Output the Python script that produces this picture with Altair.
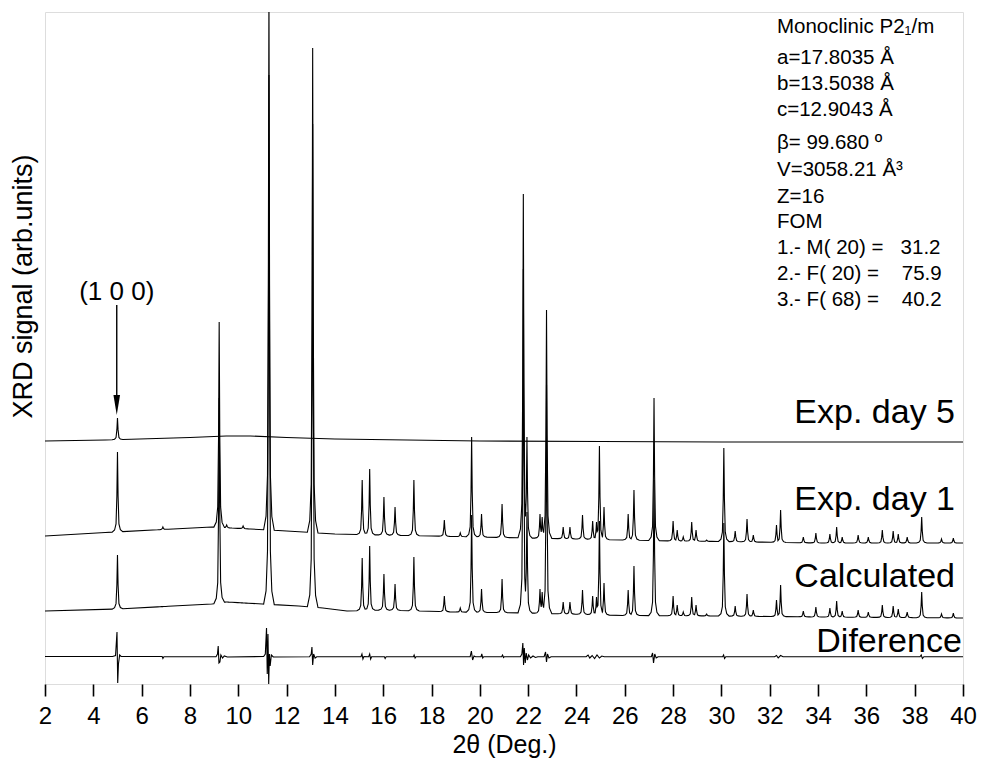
import altair as alt
import numpy as np
import pandas as pd

# ---- reflections (2θ, deg) shared by the measured (day 1) and calculated patterns
peak_theta = [5.00, 6.88, 9.21, 9.52, 10.20, 11.27, 13.08, 15.13, 15.44, 16.03,
              16.49, 17.27, 18.53, 19.19, 19.66, 20.07, 20.92, 21.80, 21.95, 22.49,
              22.58, 22.76, 23.45, 23.73, 24.25, 24.67, 24.83, 24.95, 25.14, 26.14,
              26.38, 27.21, 28.00, 28.17, 28.42, 28.77, 28.95, 29.39, 30.10, 30.57,
              31.06, 31.32, 32.28, 32.45, 33.39, 33.91, 34.49, 34.77, 35.00, 35.66,
              36.08, 36.66, 37.11, 37.32, 37.69, 38.29, 39.11, 39.60]

# peak-top signal of the "Exp. day 1" pattern (offset scale)
day1_top = [232, 157, 362, 159, 158, 700, 636, 204, 215, 187,
            177, 204, 164, 151, 247, 170, 180, 490, 247, 170,
            167, 374, 157, 157, 169, 163, 162, 238, 177, 170,
            194, 286, 163, 154, 147, 162, 154, 144, 236, 153,
            165, 149, 159, 174, 147, 151, 150, 157, 147, 149,
            147, 154, 153, 150, 147, 167, 145, 146]

# peak-top signal of the calculated pattern (offset scale)
calc_top = [129, 77, 286, 82, 81, 609, 560, 126, 138, 110,
            100, 127, 88, 76, 169, 95, 105, 415, 172, 95,
            92, 299, 82, 82, 94, 88, 87, 163, 101, 94,
            118, 204, 88, 79, 72, 87, 79, 70, 161, 78,
            90, 74, 84, 99, 73, 77, 76, 83, 73, 74,
            72, 79, 78, 75, 72, 92, 70, 71]

# backgrounds (2θ, signal) of each pattern
day1_bg_theta = [2, 4.5, 8.9, 10.5, 12, 14, 16, 18, 20, 22, 24, 26, 28, 30, 34, 40]
day1_bg = [148, 151.5, 157, 155, 153, 150, 149, 148, 147, 146, 145, 144, 143, 142.5, 141, 141]

calc_bg_theta = [2, 5, 8.9, 9.5, 11, 12.5, 13.5, 14.5, 16, 19, 22, 26, 30, 34, 40]
calc_bg = [73, 75, 80, 82, 80, 78, 76, 73, 74, 72, 71, 68.5, 68, 67, 66]

day5_bg_theta = [2, 4.5, 8, 9.5, 10.5, 12, 14, 20, 25, 30, 40]
day5_bg = [243, 244, 246.5, 248, 248, 246.5, 245, 243, 242.5, 242, 242]
day5_peak_theta = [5.00]
day5_top = [266]

# difference pattern (observed - calculated), offset scale
diff_theta = [2.0, 4.80, 4.92, 4.98, 5.01, 5.04, 5.09, 5.15, 6.85, 6.88, 6.92,
              9.08, 9.14, 9.17, 9.20, 9.24, 9.28, 9.35, 9.42, 9.55,
              11.05, 11.12, 11.17, 11.20, 11.23, 11.26, 11.29, 11.32, 11.37, 11.45,
              12.95, 13.02, 13.05, 13.08, 13.12, 13.18, 13.25,
              15.08, 15.12, 15.16, 15.20, 15.40, 15.44, 15.48, 15.52,
              16.05, 16.08, 16.12, 17.25, 17.28, 17.32, 17.36,
              19.60, 19.65, 19.70, 19.76, 19.82, 20.05, 20.08, 20.12, 20.16,
              20.90, 20.94, 20.98, 21.02,
              21.68, 21.74, 21.78, 21.81, 21.84, 21.88, 21.92, 21.97, 22.02, 22.10,
              22.20, 22.30, 22.40, 22.66, 22.72, 22.76, 22.80, 22.86, 22.95,
              24.40, 24.48, 24.55, 24.65, 24.75, 24.85, 24.95, 25.05, 25.15,
              27.10, 27.15, 27.19, 27.24, 27.30, 27.38,
              30.05, 30.09, 30.13, 30.18, 32.20, 32.28, 32.35, 32.45, 32.55,
              38.22, 38.27, 38.32, 38.38, 40.0]
diff_signal = [27.5, 27.5, 28.5, 52, 1, 20, 29, 27.5, 27.5, 25.5, 27.3,
               27.3, 30, 38, 21, 22, 29, 26, 28, 27,
               27.5, 30, 56, 10, 50, 0, 30, 18, 29, 27,
               27.3, 30, 37, 19, 30, 26, 27.3,
               27.3, 30, 25, 27.5, 27.3, 30, 25, 27.3,
               27.3, 25.5, 27.3, 27.3, 29, 26, 27.3,
               27.3, 33, 24, 28, 27.3, 27.3, 30, 26, 27.3,
               27.3, 29, 26.5, 27.3,
               27.3, 30, 41, 19, 36, 21, 31, 24, 29, 26,
               28, 26.5, 27.3, 27.3, 32, 22, 30, 26, 27.3,
               27.3, 29, 26, 28.5, 25.5, 29, 26, 28, 27.3,
               27.3, 31, 21, 30, 26, 27.3,
               27.3, 29, 25.5, 27.3, 27.3, 28.5, 26, 28.5, 27.3,
               27.3, 29, 25.5, 27.3, 27.3]

# curve labels
curve_names = ["Exp. day 5", "Exp. day 1", "Calculated", "Diference"]
curve_label_theta = [39.67, 39.67, 39.67, 39.95]
curve_label_y = [261, 174, 97, 32.5]

# cell / indexing summary (non-breaking spaces keep the column gaps)
NB = "\u00a0"
info_lines = ["Monoclinic P2\u2081/m", "a=17.8035 \u00c5", "b=13.5038 \u00c5",
              "c=12.9043 \u00c5", "\u03b2= 99.680 \u00ba", "V=3058.21 \u00c5\u00b3",
              "Z=16", "FOM",
              "1.- M( 20) =" + NB * 3 + "31.2",
              "2.- F( 20) =" + NB * 4 + "75.9",
              "3.- F( 68) =" + NB * 4 + "40.2"]
info_theta = 32.3
info_y = [657, 626, 600, 574, 541, 514, 487, 462, 436, 410, 384]

# (1 0 0) reflection marker
hkl_label = "(1 0 0)"
hkl_theta = 4.97
hkl_label_y = 392
arrow_top = 379
arrow_tip = 269

# piecewise-linear peak outline: offsets (deg) and fraction of peak height
SHAPE_DX = np.array([-0.22, -0.12, -0.06, -0.025, 0.0, 0.025, 0.06, 0.12, 0.22])
SHAPE_FR = np.array([0.0, 0.025, 0.1, 0.45, 1.0, 0.45, 0.1, 0.025, 0.0])


def pattern(bg_t, bg_v, pk_t, pk_top):
    bg_t = np.asarray(bg_t, float)
    bg_v = np.asarray(bg_v, float)
    pk_t = np.asarray(pk_t, float)
    heights = np.asarray(pk_top, float) - np.interp(pk_t, bg_t, bg_v)
    xs = set(bg_t.tolist())
    for p in pk_t:
        xs.update((p + SHAPE_DX).tolist())
    xs = np.array(sorted(x for x in xs if 2.0 <= x <= 40.0))
    bump = np.zeros_like(xs)
    for p, h in zip(pk_t, heights):
        if h > 0:
            bump = np.maximum(bump, h * np.interp(xs - p, SHAPE_DX, SHAPE_FR, left=0, right=0))
    return xs, np.interp(xs, bg_t, bg_v) + bump


frames = []
for name, (t, v) in {
    "day5": pattern(day5_bg_theta, day5_bg, day5_peak_theta, day5_top),
    "day1": pattern(day1_bg_theta, day1_bg, peak_theta, day1_top),
    "calc": pattern(calc_bg_theta, calc_bg, peak_theta, calc_top),
    "diff": (np.array(diff_theta), np.array(diff_signal)),
}.items():
    frames.append(pd.DataFrame({"theta": t, "signal": v, "trace": name}))
df = pd.concat(frames, ignore_index=True)

SANS = "Liberation Sans, Arial, sans-serif"

x_scale = alt.Scale(domain=[2, 40], nice=False, zero=False)
y_scale = alt.Scale(domain=[0, 672], nice=False, zero=False)

x_axis = alt.Axis(
    values=list(range(2, 41)),
    labelExpr="datum.value % 2 == 0 ? datum.label : ''",
    tickSize={"condition": {"test": "datum.value % 2 == 0", "value": 12}, "value": 7},
    tickWidth=1.6, tickColor="black", domain=False, grid=False,
    labelFont=SANS, labelFontSize=24, labelColor="black", labelPadding=8,
    labelFlush=False, labelOverlap=False,
    title="2\u03b8 (Deg.)", titleFont=SANS, titleFontSize=25,
    titleFontWeight="normal", titleColor="black", titlePadding=4,
)
y_axis = alt.Axis(
    ticks=False, labels=False, domain=False, grid=False,
    title="XRD signal (arb.units)", titleFont=SANS, titleFontSize=27,
    titleFontWeight="normal", titleColor="black",
    titleAngle=-90, titleAlign="center", titleBaseline="middle",
    titleX=-22, titleY=274,
)

lines = alt.Chart(df).mark_line(color="black", strokeWidth=1.1, clip=True).encode(
    x=alt.X("theta:Q", scale=x_scale, axis=x_axis),
    y=alt.Y("signal:Q", scale=y_scale, axis=y_axis),
    detail="trace:N",
)

labels_df = pd.DataFrame({"theta": curve_label_theta, "y": curve_label_y, "text": curve_names})
labels = alt.Chart(labels_df).mark_text(
    align="right", baseline="alphabetic", font=SANS, fontSize=34, color="black"
).encode(x=alt.X("theta:Q", scale=x_scale), y=alt.Y("y:Q", scale=y_scale), text="text:N")

info_df = pd.DataFrame({"theta": [info_theta] * len(info_lines), "y": info_y, "text": info_lines})
info = alt.Chart(info_df).mark_text(
    align="left", baseline="middle", font=SANS, fontSize=20.5, color="black"
).encode(x=alt.X("theta:Q", scale=x_scale), y=alt.Y("y:Q", scale=y_scale), text="text:N")

hkl_df = pd.DataFrame({"theta": [hkl_theta], "y": [hkl_label_y], "text": [hkl_label]})
hkl = alt.Chart(hkl_df).mark_text(
    align="center", baseline="middle", font=SANS, fontSize=26, color="black"
).encode(x=alt.X("theta:Q", scale=x_scale), y=alt.Y("y:Q", scale=y_scale), text="text:N")

arrow_df = pd.DataFrame({"theta": [hkl_theta], "top": [arrow_top], "tip": [arrow_tip],
                         "head": [arrow_tip + 10]})
shaft = alt.Chart(arrow_df).mark_rule(color="black", strokeWidth=1.4).encode(
    x=alt.X("theta:Q", scale=x_scale), y=alt.Y("top:Q", scale=y_scale), y2="head:Q"
)
head = alt.Chart(arrow_df).mark_point(
    shape="M-0.33,-1L0.33,-1L0,1Z", size=400, filled=True, color="black", opacity=1
).encode(x=alt.X("theta:Q", scale=x_scale), y=alt.Y("head:Q", scale=y_scale))

chart = alt.layer(lines, labels, info, hkl, shaft, head).properties(
    width=918, height=672, autosize="none",
    padding={"left": 45, "top": 12, "right": 19, "bottom": 78},
).configure_view(stroke="black", strokeWidth=2).configure(background="white")

chart.save("out.html", embed_options={"renderer": "svg", "actions": False})
